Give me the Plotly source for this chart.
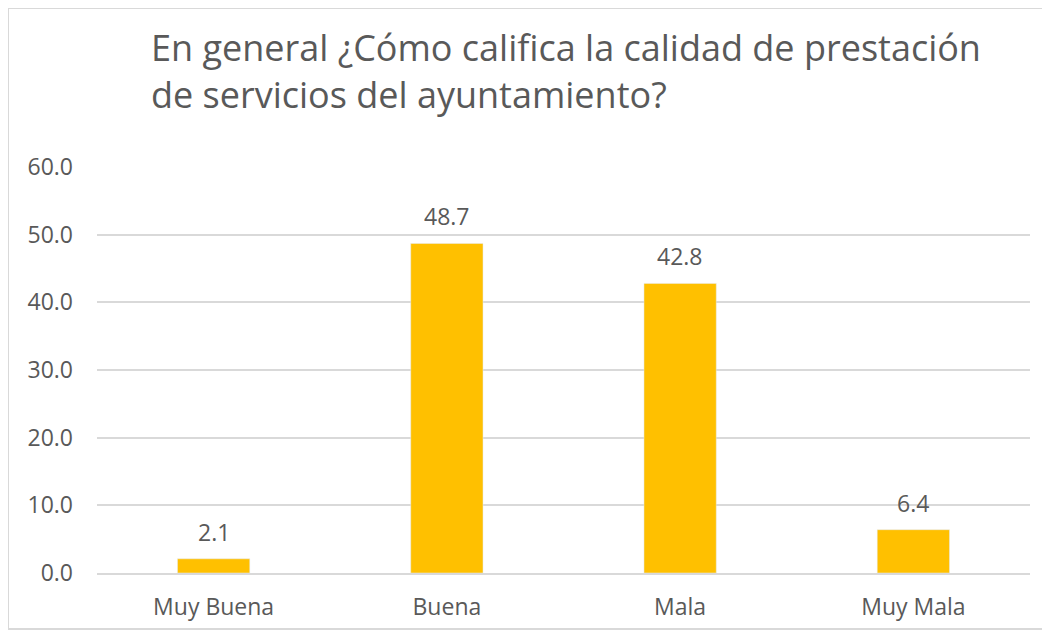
import plotly.graph_objects as go

categories = ["Muy Buena", "Buena", "Mala", "Muy Mala"]
values = [2.1, 48.7, 42.8, 6.4]
y_ticks = [0, 10, 20, 30, 40, 50, 60]
title_lines = ["En general ¿Cómo califica la calidad de prestación",
               "de servicios del ayuntamiento?"]

FONT = "Open Sans"
GRAY = "#595959"

# figure geometry (page body adds an 8px offset)
FW, FH = 1042, 631
L, R, T, B = 89, 20, 159, 66
W, H = FW - L - R, FH - T - B


def px_x(fx):
    return (fx - L) / W


def px_y(fy):
    return (FH - B - fy) / H


fig = go.Figure()
fig.add_trace(go.Bar(
    x=categories, y=values, marker_color="#FFC000", width=0.31,
    hoverinfo="x+y",
))

for c, v in zip(categories, values):
    fig.add_annotation(x=c, y=v, text=f"{v:.1f}", showarrow=False,
                       yanchor="middle", yshift=27,
                       font=dict(family=FONT, size=23, color=GRAY))

# title (two lines, left aligned)
fig.add_annotation(text="<br>".join(title_lines), xref="paper", yref="paper",
                   x=px_x(141), y=px_y(63), xanchor="left", yanchor="middle",
                   align="left", showarrow=False,
                   font=dict(family=FONT, size=36, color=GRAY))

# chart border
fig.add_shape(type="rect", xref="paper", yref="paper",
              x0=px_x(0), x1=px_x(FW + 10),
              y0=px_y(621), y1=px_y(0),
              line=dict(color="#D9D9D9", width=2), fillcolor="rgba(0,0,0,0)", layer="below")

fig.update_layout(
    width=FW, height=FH,
    margin=dict(l=L, r=R, t=T, b=B),
    paper_bgcolor="white", plot_bgcolor="white",
    showlegend=False,
    font=dict(family=FONT, color=GRAY),
)
fig.update_yaxes(range=[0, 60], tickvals=y_ticks, ticktext=[f"{t:.1f}" for t in y_ticks],
                 showgrid=True, gridcolor="#D9D9D9", gridwidth=1.5, zeroline=False,
                 showline=False, tickfont=dict(family=FONT, size=23, color=GRAY),
                 ticklabelstandoff=23)
fig.update_xaxes(showline=True, linecolor="#D9D9D9", linewidth=1.5,
                 tickfont=dict(family=FONT, size=23, color=GRAY),
                 ticklabelstandoff=13)

fig.write_html("out.html")
